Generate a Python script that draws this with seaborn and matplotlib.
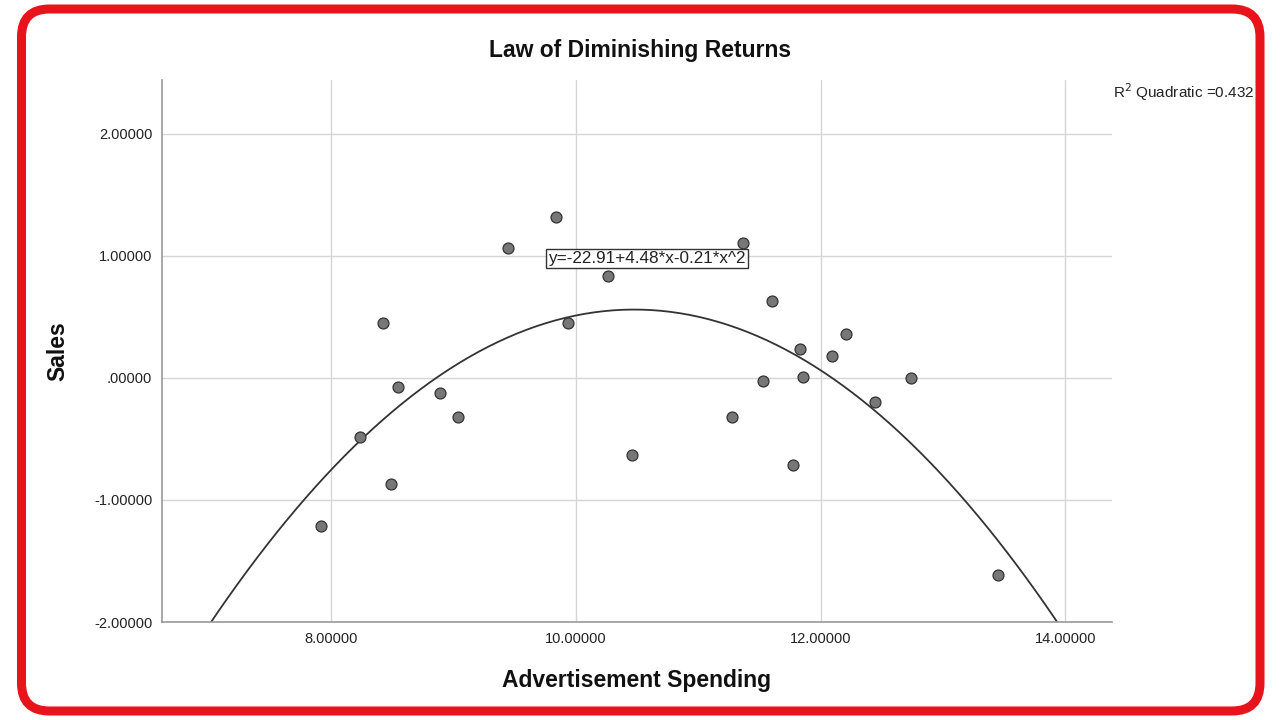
import numpy as np
import pandas as pd
import matplotlib
matplotlib.use('Agg')
import matplotlib.pyplot as plt
import seaborn as sns
from matplotlib.patches import FancyBboxPatch
from matplotlib.ticker import FuncFormatter

# data
ad_spend = [7.92, 8.235, 8.428, 8.488, 8.548, 8.887, 9.037, 9.443, 9.842, 9.940,
            10.262, 10.456, 11.277, 11.364, 11.531, 11.60, 11.772, 11.833, 11.854,
            12.091, 12.205, 12.442, 12.741, 13.449]
sales = [-1.213, -0.481, 0.448, -0.872, -0.073, -0.128, -0.323, 1.063, 1.315, 0.448,
         0.837, -0.628, -0.318, 1.103, -0.022, 0.63, -0.712, 0.233, 0.005,
         0.178, 0.362, -0.20, 0.0, -1.614]
x_ticks = [8, 10, 12, 14]
y_ticks = [-2, -1, 0, 1, 2]
equation = 'y=-22.91+4.48*x-0.21*x^2'
r2_label = 'R$^2$ Quadratic =0.432'

df = pd.DataFrame({'Advertisement Spending': ad_spend, 'Sales': sales})

sns.set_style('white')
plt.rcParams['font.family'] = ['Liberation Sans', 'DejaVu Sans']

fig = plt.figure(figsize=(12.8, 7.2), dpi=100)
ax = fig.add_axes([162 / 1280, 1 - 622 / 720, 950 / 1280, 542 / 720])

ax.set_xlim(6.62, 14.38)
ax.set_ylim(-2.0, 2.44)

sns.scatterplot(data=df, x='Advertisement Spending', y='Sales', ax=ax,
                s=62, color='#777777', edgecolor='#333333', linewidth=0.9, zorder=3)
sns.regplot(data=df, x='Advertisement Spending', y='Sales', ax=ax, order=2,
            ci=None, truncate=False, scatter=False,
            line_kws={'color': '#333333', 'linewidth': 1.3, 'zorder': 2})
ax.set_xlim(6.62, 14.38)
ax.set_ylim(-2.0, 2.44)

ax.set_xticks(x_ticks)
ax.set_yticks(y_ticks)


def fmt(v, pos):
    s = f'{v:.5f}'
    if s.startswith('0.') or s.startswith('-0.'):
        s = s.replace('0.', '.', 1)
    return s


ax.xaxis.set_major_formatter(FuncFormatter(fmt))
ax.yaxis.set_major_formatter(FuncFormatter(fmt))
ax.tick_params(axis='both', length=0, labelsize=10.5, colors='#222222', pad=7)
ax.grid(True, color='#d6d6d6', linewidth=1)
ax.set_axisbelow(True)
for side in ['top', 'right']:
    ax.spines[side].set_visible(False)
for side in ['left', 'bottom']:
    ax.spines[side].set_color('#999999')
    ax.spines[side].set_linewidth(1.2)

ax.set_xlabel('Advertisement Spending', fontsize=16.5, fontweight='bold', labelpad=17,
              color='#111111')
ax.set_ylabel('Sales', fontsize=16.5, fontweight='bold', labelpad=18, color='#111111')

ax.text(10.58, 0.98, equation, fontsize=12.3, ha='center', va='center', color='#222222',
        zorder=4, bbox=dict(boxstyle='square,pad=0.12', facecolor='white',
                            edgecolor='#333333', linewidth=1))

fig.text(640 / 1280, 1 - 50 / 720, 'Law of Diminishing Returns', fontsize=16.5,
         fontweight='bold', ha='center', va='center', color='#111111')
fig.text(1113 / 1280, 1 - 92 / 720, r2_label, fontsize=11, ha='left', va='center',
         color='#222222')

# red rounded frame around the whole picture
frame = fig.add_axes([0, 0, 1, 1], zorder=10)
frame.set_xlim(0, 1280)
frame.set_ylim(0, 720)
frame.axis('off')
frame.patch.set_alpha(0)
frame.add_patch(FancyBboxPatch((21.5, 9), 1238.5, 702, boxstyle='round,pad=0,rounding_size=28',
                               facecolor='none', edgecolor='#e8141b', linewidth=6.5))

fig.savefig('out.png', dpi=100)
